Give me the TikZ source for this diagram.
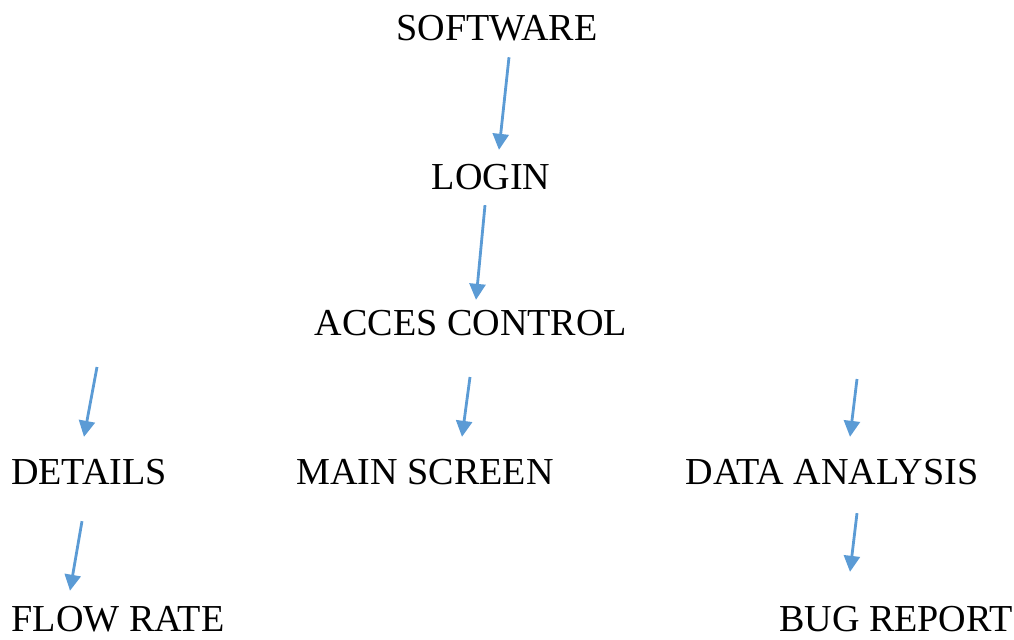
\documentclass[tikz,border=0pt]{standalone}
\usepackage{fontspec}
\setmainfont{Liberation Serif}
\usetikzlibrary{arrows.meta,calc}
\definecolor{arrowblue}{HTML}{5B9BD5}

\begin{document}
\begin{tikzpicture}[x=0.02cm,y=-0.02cm,>={Triangle[length=0.32cm,width=0.32cm]}]
\tikzstyle{label}=[inner sep=0, font=\fontsize{21.7}{25}\selectfont]
\tikzstyle{link}=[->, arrowblue, line width=1.6pt]

\useasboundingbox (0,0) rectangle (1014,639);

% levels
\node(software)[label] at (497,28) {SOFTWARE};
\node(login)[label] at (491,177) {LOGIN};
\node(access)[label] at (471,323) {ACCES CONTROL};
\node(details)[label] at (89,472) {DETAILS};
\node(mainscr)[label] at (425,472) {MAIN SCREEN};
\node(analysis)[label] at (832,472) {DATA ANALYSIS};
\node(flow)[label] at (118,619) {FLOW RATE};
\node(bug)[label] at (896,619) {BUG REPORT};

% free starts
\coordinate(d0) at (97,367);
\coordinate(m0) at (470,377);
\coordinate(a0) at (857,379);

% arrows
\draw[link] ([shift={(12,16)}]software.south) -- ([shift={(8,-14)}]login.north);
\draw[link] ([shift={(-6,15)}]login.south) -- ([shift={(5,-10)}]access.north);
\draw[link] (d0) -- ([shift={(-5,-22)}]details.north);
\draw[link] (m0) -- ([shift={(37,-22)}]mainscr.north);
\draw[link] (a0) -- ([shift={(18,-22)}]analysis.north);
\draw[link] ([shift={(-7,36)}]details.south) -- ([shift={(-48,-15)}]flow.north);
\draw[link] ([shift={(25,28)}]analysis.south) -- ([shift={(-46,-34)}]bug.north);

\end{tikzpicture}
\end{document}
